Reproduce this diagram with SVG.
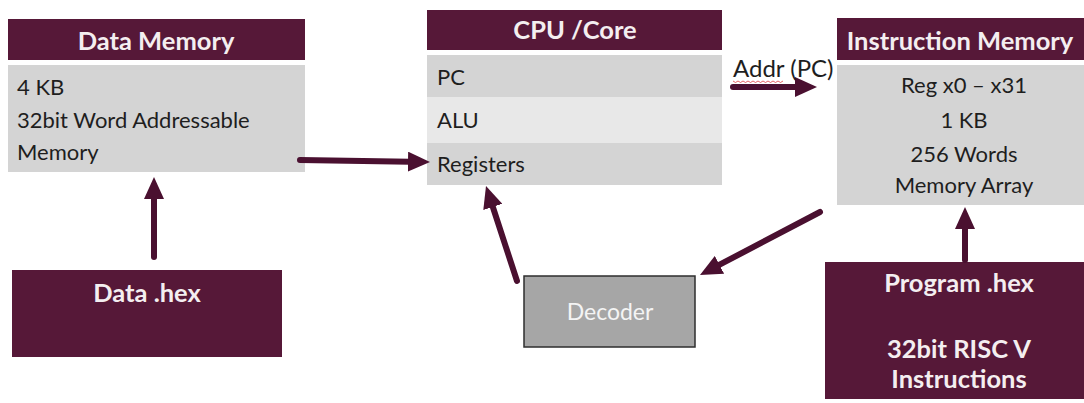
<svg xmlns="http://www.w3.org/2000/svg" width="1084" height="403" viewBox="0 0 1084 403">
  <style>
    .hdr { fill: #561838; }
    .body { fill: #d4d4d4; }
    .light { fill: #e8e8e8; }
    .htxt { font-family: Lato, "Open Sans", sans-serif; font-weight: bold; font-size: 25.5px; fill: #f4eef0; }
    .btxt { font-family: Lato, "Open Sans", sans-serif; font-size: 22px; fill: #1e1e1e; }
    .lbl { font-family: Lato, "Open Sans", sans-serif; font-size: 24px; fill: #1e1e1e; }
    .conn { stroke: #4a1030; stroke-width: 6; stroke-linecap: round; fill: none; }
  </style>
  <defs>
    <marker id="head" viewBox="0 0 22 20" refX="2" refY="10" markerWidth="22" markerHeight="20" markerUnits="userSpaceOnUse" orient="auto">
      <path d="M0,0 L22,10 L0,20 Z" fill="#4a1030"/>
    </marker>
  </defs>

  <!-- Data memory -->
  <g id="data-memory">
    <rect class="hdr" x="8" y="19" width="297" height="41"/>
    <text class="htxt" x="156" y="50" text-anchor="middle">Data Memory</text>
    <rect class="body" x="8" y="65" width="297" height="107"/>
    <text class="btxt" x="17" y="95">4 KB</text>
    <text class="btxt" x="17" y="128">32bit Word Addressable</text>
    <text class="btxt" x="17" y="160">Memory</text>
  </g>

  <!-- CPU / Core -->
  <g id="cpu-core">
    <rect class="hdr" x="427" y="10" width="295" height="40"/>
    <text class="htxt" x="575" y="39" text-anchor="middle">CPU /Core</text>
    <rect class="body" x="427" y="55" width="295" height="42"/>
    <rect class="light" x="427" y="97" width="295" height="46"/>
    <rect class="body" x="427" y="143" width="295" height="42"/>
    <text class="btxt" x="437" y="85">PC</text>
    <text class="btxt" x="437" y="128">ALU</text>
    <text class="btxt" x="437" y="172">Registers</text>
  </g>

  <!-- Instruction memory -->
  <g id="instruction-memory">
    <rect class="hdr" x="837" y="18" width="247" height="42"/>
    <text class="htxt" x="960" y="50" text-anchor="middle">Instruction Memory</text>
    <rect class="body" x="837" y="65" width="247" height="140"/>
    <text class="btxt" x="964" y="93" text-anchor="middle">Reg x0 – x31</text>
    <text class="btxt" x="964" y="128" text-anchor="middle">1 KB</text>
    <text class="btxt" x="964" y="162" text-anchor="middle">256 Words</text>
    <text class="btxt" x="964" y="193" text-anchor="middle">Memory Array</text>
  </g>

  <!-- Data file -->
  <g id="data-hex">
    <rect class="hdr" x="12" y="270" width="270" height="87"/>
    <text class="htxt" x="147" y="302" text-anchor="middle">Data .hex</text>
  </g>

  <!-- Decoder -->
  <g id="decoder">
    <rect x="524" y="276" width="171" height="71" fill="#a6a6a6" stroke="#2e2e2e" stroke-width="1.5"/>
    <text x="610" y="320" text-anchor="middle" font-family="Lato, 'Open Sans', sans-serif" font-size="23" fill="#f4f4f4">Decoder</text>
  </g>

  <!-- Program file -->
  <g id="program-hex">
    <rect class="hdr" x="825" y="262" width="259" height="137"/>
    <text class="htxt" x="959" y="292" text-anchor="middle">Program .hex</text>
    <text class="htxt" x="959" y="358" text-anchor="middle">32bit RISC V</text>
    <text class="htxt" x="959" y="388" text-anchor="middle">Instructions</text>
  </g>

  <!-- Connectors -->
  <g id="connectors">
    <line class="conn" x1="733" y1="87" x2="797" y2="87" marker-end="url(#head)"/>
    <text class="lbl" x="733" y="77">Addr (PC)</text>
    <path d="M733,81 l2.5,1.5 l2.5,-1.5 l2.5,1.5 l2.5,-1.5 l2.5,1.5 l2.5,-1.5 l2.5,1.5 l2.5,-1.5 l2.5,1.5 l2.5,-1.5 l2.5,1.5 l2.5,-1.5 l2.5,1.5 l2.5,-1.5 l2.5,1.5 l2.5,-1.5 l2.5,1.5 l2.5,-1.5 l2.5,1.5 l2.5,-1.5" fill="none" stroke="#e04040" stroke-width="0.8"/>
    <line class="conn" x1="300" y1="160" x2="410" y2="161.7" marker-end="url(#head)"/>
    <line class="conn" x1="154" y1="257" x2="154" y2="197" marker-end="url(#head)"/>
    <line class="conn" x1="517" y1="281" x2="492.2" y2="205" marker-end="url(#head)"/>
    <line class="conn" x1="820" y1="212" x2="717.7" y2="265.7" marker-end="url(#head)"/>
    <line class="conn" x1="965" y1="260" x2="965" y2="227" marker-end="url(#head)"/>
  </g>
</svg>
